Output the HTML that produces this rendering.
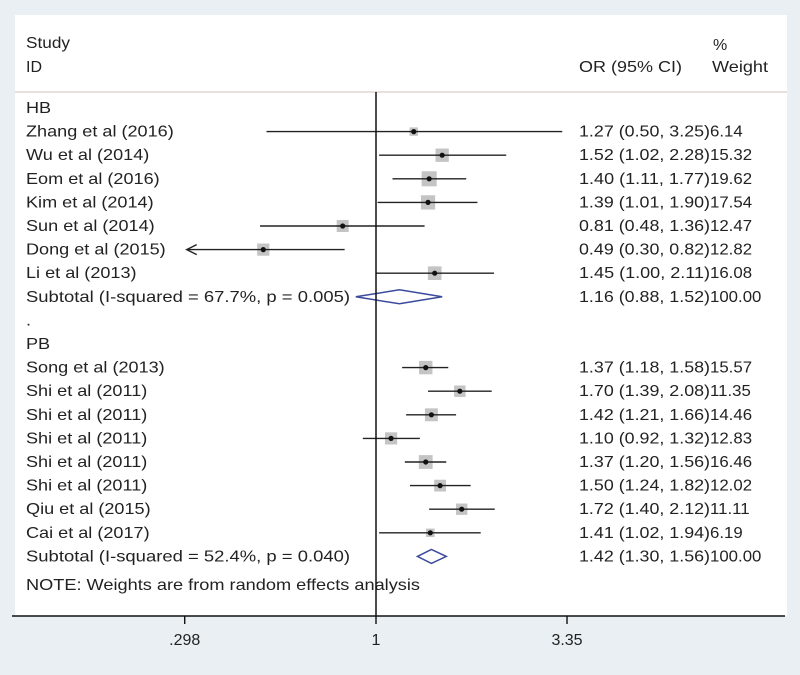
<!DOCTYPE html>
<html><head><meta charset="utf-8"><style>
html,body{margin:0;padding:0;background:#e9eff3;}
svg{display:block;font-family:"Liberation Sans",sans-serif;}
</style></head><body>
<svg width="800" height="675" xmlns="http://www.w3.org/2000/svg">
<rect x="0" y="0" width="800" height="675" fill="#e9eff3"/>
<rect x="15" y="15" width="772" height="601" fill="#ffffff"/>
<line x1="15" y1="92" x2="787" y2="92" stroke="#e2d6d0" stroke-width="1.5"/>
<g font-size="16" fill="#222">
<text x="26" y="48" textLength="44" lengthAdjust="spacingAndGlyphs">Study</text>
<text x="26" y="72">ID</text>
<text x="579" y="72" textLength="103" lengthAdjust="spacingAndGlyphs">OR (95% CI)</text>
<text x="713" y="50">%</text>
<text x="712" y="72" textLength="56" lengthAdjust="spacingAndGlyphs">Weight</text>
</g>
<g id="rows"></g>
<line x1="376" y1="92" x2="376" y2="616" stroke="#111" stroke-width="1.5"/>
<line x1="12" y1="616" x2="785" y2="616" stroke="#111" stroke-width="1.5"/>
<g id="ticks" font-size="16" fill="#222"></g>
</svg>
<script>
const studies = ["HB","Zhang et al (2016)","Wu et al (2014)","Eom et al (2016)","Kim et al (2014)","Sun et al (2014)","Dong et al (2015)","Li et al (2013)","Subtotal  (I-squared = 67.7%, p = 0.005)",".","PB","Song et al (2013)","Shi et al (2011)","Shi et al (2011)","Shi et al (2011)","Shi et al (2011)","Shi et al (2011)","Qiu et al (2015)","Cai et al (2017)","Subtotal  (I-squared = 52.4%, p = 0.040)"];
const kinds = ["h","s","s","s","s","s","s","s","d","b","h","s","s","s","s","s","s","s","s","d"];
const orVals = [null,1.27,1.52,1.40,1.39,0.81,0.49,1.45,1.16,null,null,1.37,1.70,1.42,1.10,1.37,1.50,1.72,1.41,1.42];
const lowVals = [null,0.50,1.02,1.11,1.01,0.48,0.30,1.00,0.88,null,null,1.18,1.39,1.21,0.92,1.20,1.24,1.40,1.02,1.30];
const highVals = [null,3.25,2.28,1.77,1.90,1.36,0.82,2.11,1.52,null,null,1.58,2.08,1.66,1.32,1.56,1.82,2.12,1.94,1.56];
const weights = [null,6.14,15.32,19.62,17.54,12.47,12.82,16.08,100.00,null,null,15.57,11.35,14.46,12.83,16.46,12.02,11.11,6.19,100.00];
const tickVals = [0.298,1,3.35];
const tickLabels = [".298","1","3.35"];
const xMin = 0.298;
const NS="http://www.w3.org/2000/svg";
function xs(v){return 376+158*Math.log(v);}
function ys(i){return 108+23.6*i;}
function mk(tag,attrs,parent){const e=document.createElementNS(NS,tag);for(const k in attrs)e.setAttribute(k,attrs[k]);parent.appendChild(e);return e;}
function stretch(t,k){const w=t.getComputedTextLength();if(w>0){t.setAttribute('textLength',w*k);t.setAttribute('lengthAdjust','spacingAndGlyphs');}}
const g=document.getElementById('rows');
studies.forEach((s,i)=>{
  const y=ys(i);
  const t=mk('text',{x:26,y:y+5,'font-size':16,fill:'#222'},g);
  
  
  t.textContent=s;
  if(kinds[i]==='d'){t.setAttribute('textLength',324);t.setAttribute('lengthAdjust','spacingAndGlyphs');}
  else stretch(t,1.13);
  if(orVals[i]==null) return;
  const o=orVals[i],lo=lowVals[i],hi=highVals[i],w=weights[i];
  if(kinds[i]==='s'){
    const sz=Math.sqrt(w)*3.4;
    const sq=mk('rect',{x:xs(o)-sz/2,y:y-sz/2,width:sz,height:sz,fill:'#c4c4c4'},g);
    
    
    const clipped=lo<xMin*1.05;
    const x1=clipped?xs(xMin)+2:xs(lo);
    const ln=mk('line',{x1:x1,y1:y,x2:xs(hi),y2:y,stroke:'#222','stroke-width':1.4},g);
    
    
    if(clipped){
      const ar=mk('path',{d:`M${x1+10},${y-5} L${x1},${y} L${x1+10},${y+5}`,fill:'none',stroke:'#222','stroke-width':1.4},g);
      
      
    }
    const dot=mk('circle',{cx:xs(o),cy:y,r:2.6,fill:'#111'},g);
    
    
  } else {
    const d=mk('path',{d:`M${xs(lo)},${y} L${xs(o)},${y-7} L${xs(hi)},${y} L${xs(o)},${y+7} Z`,fill:'none',stroke:'#3b4a9c','stroke-width':1.5},g);
    
    
  }
  const ot=mk('text',{x:579,y:y+5,'font-size':16,fill:'#222',textLength:131,lengthAdjust:'spacingAndGlyphs'},g);
  
  
  ot.textContent=`${o.toFixed(2)} (${lo.toFixed(2)}, ${hi.toFixed(2)})`;
  const wt=mk('text',{x:710,y:y+5,'font-size':16,fill:'#222'},g);
  
  
  wt.textContent=w.toFixed(2);
  stretch(wt,1.05);
});
const note=mk('text',{x:26,y:ys(20)+10,'font-size':16,fill:'#222',textLength:394,lengthAdjust:'spacingAndGlyphs'},g);


note.textContent="NOTE: Weights are from random effects analysis";
const tg=document.getElementById('ticks');
tickVals.forEach((v,i)=>{
  const x=xs(v);
  const tl=mk('line',{x1:x,y1:616,x2:x,y2:624,stroke:'#111','stroke-width':1.4},tg);
  
  
  const tt=mk('text',{x:x,y:645,'text-anchor':'middle'},tg);
  
  
  tt.textContent=tickLabels[i];
});
</script>
</body></html>
